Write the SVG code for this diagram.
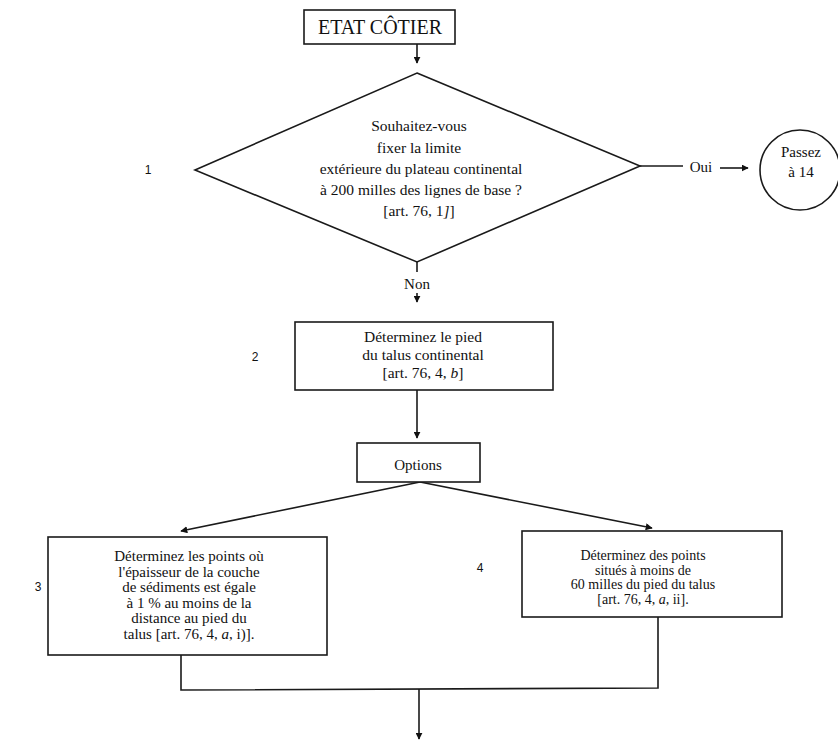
<svg xmlns="http://www.w3.org/2000/svg" width="838" height="740" viewBox="0 0 838 740">
<style>
.box{fill:#fff;stroke:#1a1a1a;stroke-width:1.6}
.ln{fill:none;stroke:#1a1a1a;stroke-width:1.6}
.t{font-family:"Liberation Serif","Times New Roman",serif;fill:#111;text-anchor:middle}
.n{font-family:"Liberation Sans",Arial,sans-serif;font-size:12px;fill:#111;text-anchor:middle}
</style>
<defs>
<marker id="ah" viewBox="0 0 10 10" refX="9" refY="5" markerWidth="7" markerHeight="7" markerUnits="userSpaceOnUse" orient="auto">
<path d="M0,0 L10,5 L0,10 z" fill="#111"/>
</marker>
</defs>
<rect width="838" height="740" fill="#fff"/>
<g id="connectors">
<line class="ln" x1="417" y1="44" x2="417" y2="63" marker-end="url(#ah)"/>
<line class="ln" x1="640" y1="166" x2="683" y2="166"/>
<line class="ln" x1="720" y1="168" x2="748" y2="168" marker-end="url(#ah)"/>
<line class="ln" x1="417" y1="262" x2="417" y2="272"/>
<line class="ln" x1="417" y1="293" x2="417" y2="302" marker-end="url(#ah)"/>
<line class="ln" x1="417" y1="390" x2="417" y2="438" marker-end="url(#ah)"/>
<line class="ln" x1="420" y1="482" x2="181" y2="531" marker-end="url(#ah)"/>
<line class="ln" x1="420" y1="482" x2="652" y2="528" marker-end="url(#ah)"/>
<polyline class="ln" points="181,655 181,690 658,688 658,617"/>
<line class="ln" x1="419" y1="689" x2="419" y2="739" marker-end="url(#ah)"/>
</g>
<g id="etat">
<rect class="box" x="304" y="10" width="151" height="34"/>
<text class="t" x="380" y="34" font-size="20">ETAT CÔTIER</text>
</g>
<g id="q1">
<polygon class="box" points="417,73 640,166 417,262 195,170"/>
<text class="t" font-size="15.5"><tspan x="419" y="131">Souhaitez-vous</tspan><tspan x="419" y="153">fixer la limite</tspan><tspan x="421" y="174">extérieure du plateau continental</tspan><tspan x="421" y="195">à 200 milles des lignes de base ?</tspan><tspan x="419" y="216">[art. 76, 1<tspan font-style="italic">]</tspan>]</tspan></text>
<text class="n" x="148" y="174">1</text>
</g>
<g id="oui">
<text class="t" x="701" y="172" font-size="15">Oui</text>
</g>
<g id="passez">
<circle class="box" cx="800" cy="170" r="40"/>
<text class="t" font-size="15"><tspan x="801" y="157">Passez</tspan><tspan x="801" y="177">à 14</tspan></text>
</g>
<g id="non">
<text class="t" x="417" y="289" font-size="15">Non</text>
</g>
<g id="n2">
<rect class="box" x="295" y="322" width="258" height="68"/>
<text class="t" font-size="15.5"><tspan x="423" y="342">Déterminez le pied</tspan><tspan x="423" y="360">du talus continental</tspan><tspan x="423" y="378">[art. 76, 4, <tspan font-style="italic">b</tspan>]</tspan></text>
<text class="n" x="255" y="361">2</text>
</g>
<g id="options">
<rect class="box" x="357" y="443" width="123" height="39"/>
<text class="t" x="418" y="470" font-size="15">Options</text>
</g>
<g id="n3">
<rect class="box" x="48" y="537" width="279" height="118"/>
<text class="t" font-size="15"><tspan x="189" y="561">Déterminez les points où</tspan><tspan x="189" y="576.5">l'épaisseur de la couche</tspan><tspan x="189" y="592">de sédiments est égale</tspan><tspan x="189" y="607.5">à 1 % au moins  de la</tspan><tspan x="189" y="623">distance au pied du</tspan><tspan x="189" y="638.5">talus [art. 76, 4, <tspan font-style="italic">a</tspan>, i)].</tspan></text>
<text class="n" x="38" y="591">3</text>
</g>
<g id="n4">
<rect class="box" x="522" y="531" width="260" height="86"/>
<text class="t" font-size="14"><tspan x="643" y="560">Déterminez des points</tspan><tspan x="643" y="574.5">situés à moins de</tspan><tspan x="643" y="589">60 milles du pied du talus</tspan><tspan x="643" y="603.5">[art. 76, 4, <tspan font-style="italic">a</tspan>, ii].</tspan></text>
<text class="n" x="480" y="572">4</text>
</g>
</svg>
